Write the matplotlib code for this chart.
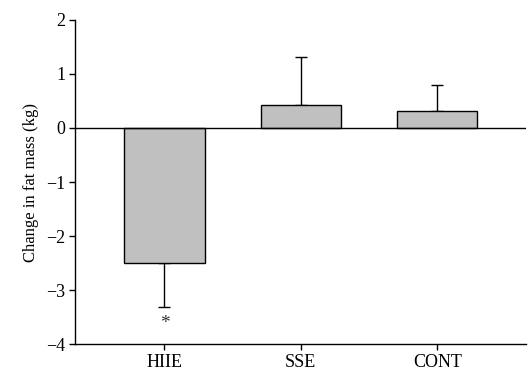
import matplotlib.pyplot as plt
import numpy as np

plt.rcParams['font.family'] = ['Liberation Serif', 'DejaVu Serif']

# Data
groups = ['HIIE', 'SSE', 'CONT']
change = [-2.50, 0.43, 0.31]
err_low = [0.82, 0.0, 0.0]
err_high = [0.0, 0.88, 0.49]

fig = plt.figure(figsize=(5.28, 3.84), dpi=100)
ax = fig.add_axes([0.142, 0.104, 0.854, 0.844])

x = np.arange(len(groups))
ax.bar(x, change, width=0.59, color='#c0c0c0', edgecolor='black', linewidth=1.0, zorder=3)
ax.errorbar(x, change, yerr=[err_low, err_high], fmt='none', ecolor='black',
            elinewidth=1.0, capsize=4.2, capthick=1.0, zorder=2)
ax.axhline(0, color='black', linewidth=1.0, zorder=4)

# significance marker
ax.text(0, -3.62, '*', ha='center', va='center', fontsize=14, color='#333333')

ax.set_xlim(-0.656, 2.65)
ax.set_ylim(-4, 2)
ax.set_xticks(x)
ax.set_xticklabels(groups)
ax.set_yticks(range(-4, 3))
ax.set_yticklabels(['\u22124', '\u22123', '\u22122', '\u22121', '0', '1', '2'])
ax.tick_params(direction='out', length=4, width=1.0, labelsize=13, pad=3)
ax.set_ylabel('Change in fat mass (kg)', fontsize=12, labelpad=5)

for s in ['top', 'right']:
    ax.spines[s].set_visible(False)
for s in ['left', 'bottom']:
    ax.spines[s].set_linewidth(1.0)

fig.savefig('out.png', dpi=100)
